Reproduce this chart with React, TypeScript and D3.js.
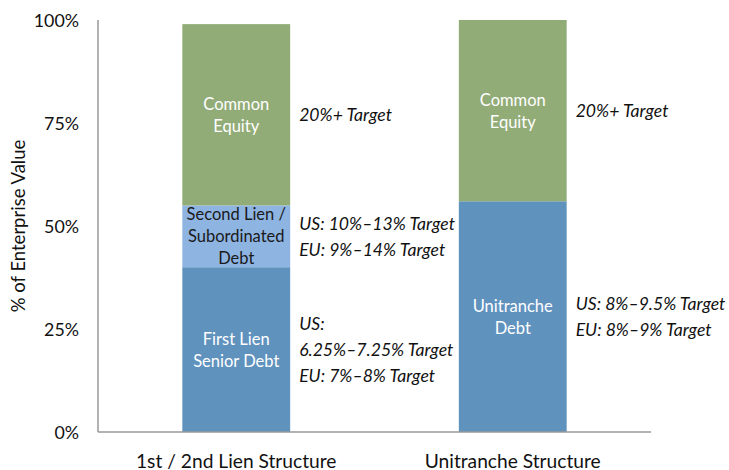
import * as d3 from 'd3';
import React from 'react';

const categories = ['1st / 2nd Lien Structure', 'Unitranche Structure'];

// stacked segments, bottom to top, in % of enterprise value
const segmentNames = [
  ['First Lien|Senior Debt', 'Second Lien /|Subordinated|Debt', 'Common|Equity'],
  ['Unitranche|Debt', 'Common|Equity'],
];
const segmentValues = [
  [40, 15, 44],
  [56, 44],
];
const segmentKinds = [
  ['senior', 'second', 'equity'],
  ['senior', 'equity'],
];

// italic notes next to each segment
const segmentNotes = [
  [['US:', '6.25%–7.25% Target', 'EU: 7%–8% Target'], ['US: 10%–13% Target', 'EU: 9%–14% Target'], ['20%+ Target']],
  [['US: 8%–9.5% Target', 'EU: 8%–9% Target'], ['20%+ Target']],
];

const yTicks = [0, 25, 50, 75, 100];

const colors = { senior: '#6092be', second: '#8eb4e2', equity: '#92ac78' };
const textColors = { senior: '#ffffff', second: '#1a1a1a', equity: '#ffffff' };

export default function App() {
  const width = 729;
  const height = 470;
  const left = 98, right = 651, top = 20, bottom = 432;
  const font = 'Lato, "Open Sans", sans-serif';

  const x = d3.scaleBand().domain(categories).range([left, right]).paddingInner(0.61).paddingOuter(0.305);
  const y = d3.scaleLinear().domain([0, 100]).range([bottom, top]);

  return (
    <svg width={width} height={height} style={{ position: 'absolute', left: 0, top: 0 }} fontFamily={font}>
      <rect width={width} height={height} fill="#fff" />

      {categories.map((cat, ci) => {
        let acc = 0;
        const bx = x(cat)!;
        const bw = x.bandwidth();
        return (
          <g key={cat}>
            {segmentValues[ci].map((v, si) => {
              const y0 = y(acc);
              const y1 = y(acc + v);
              acc += v;
              const kind = segmentKinds[ci][si];
              const lines = segmentNames[ci][si].split('|');
              const mid = (y0 + y1) / 2;
              const lh = 22;
              const notes = segmentNotes[ci][si];
              const nh = 26;
              return (
                <g key={si}>
                  <rect x={bx} y={y1} width={bw} height={y0 - y1} fill={colors[kind]} />
                  {lines.map((l, li) => (
                    <text key={li} x={bx + bw / 2} y={mid + (li - (lines.length - 1) / 2) * lh}
                      textAnchor="middle" dominantBaseline="central" fontSize={16.5} fill={textColors[kind]}>
                      {l}
                    </text>
                  ))}
                  {notes.map((n, ni) => (
                    <text key={ni} x={bx + bw + 9} y={mid + (ni - (notes.length - 1) / 2) * nh}
                      dominantBaseline="central" fontSize={17.6} fontStyle="italic" fill="#111">
                      {n}
                    </text>
                  ))}
                </g>
              );
            })}
            <text x={bx + bw / 2} y={460} textAnchor="middle" dominantBaseline="central" fontSize={19.2} fill="#111">
              {cat}
            </text>
          </g>
        );
      })}

      <line x1={left} x2={left} y1={top} y2={bottom} stroke="#999" strokeWidth={1.5} />
      <line x1={left} x2={right} y1={bottom} y2={bottom} stroke="#999" strokeWidth={1.5} />

      {yTicks.map(t => (
        <text key={t} x={79} y={y(t)} textAnchor="end" dominantBaseline="central" fontSize={17.8} fill="#111">
          {t}%
        </text>
      ))}

      <text transform={`translate(18,${(top + bottom) / 2}) rotate(-90)`} textAnchor="middle"
        dominantBaseline="central" fontSize={18.5} fill="#111">
        % of Enterprise Value
      </text>
    </svg>
  );
}
